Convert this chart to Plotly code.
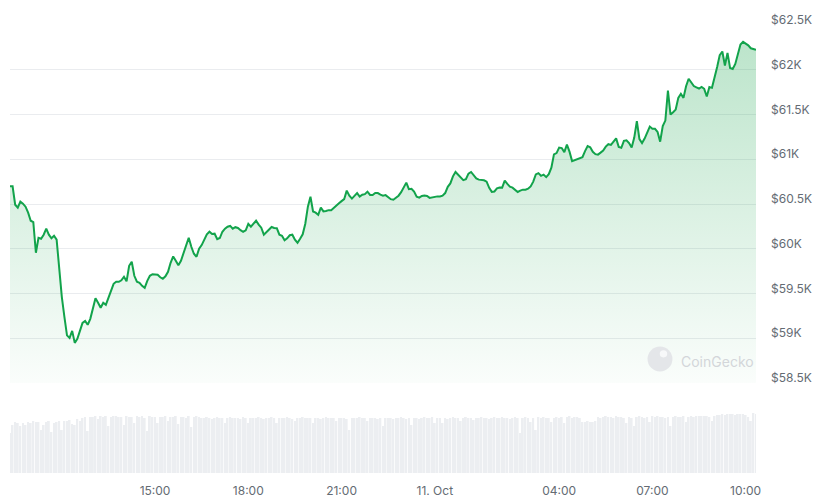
import pandas as pd
import plotly.graph_objects as go

# ---- data ----
start_time = "2024-10-10 10:20"
step = "5min"

prices = [
    60697, 60697, 60492, 60459, 60526, 60504, 60470, 60403, 60313, 60297,
    59955, 60123, 60112, 60157, 60224, 60157, 60117, 60145, 60101, 59765,
    59463, 59239, 59032, 59004, 59082, 58948, 58993, 59082, 59172, 59194,
    59150, 59217, 59351, 59446, 59396, 59340, 59396, 59373, 59452, 59530,
    59608, 59631, 59631, 59648, 59687, 59636, 59810, 59855, 59698, 59631,
    59620, 59586, 59564, 59642, 59698, 59715, 59715, 59709, 59681, 59664,
    59692, 59743, 59843, 59914, 59866, 59815, 59866, 59950, 60056, 60123,
    60022, 59944, 59910, 60000, 60041, 60101, 60162, 60190, 60164, 60168,
    60106, 60120, 60190, 60224, 60246, 60255, 60224, 60241, 60232, 60207,
    60190, 60205, 60278, 60246, 60285, 60313, 60269, 60235, 60157, 60182,
    60213, 60243, 60232, 60229, 60157, 60145, 60095, 60117, 60151, 60157,
    60101, 60067, 60112, 60162, 60280, 60470, 60582, 60416, 60403, 60380,
    60459, 60417, 60422, 60431, 60431, 60453, 60477, 60507, 60532, 60554,
    60649, 60593, 60560, 60595, 60621, 60582, 60604, 60610, 60638, 60601,
    60601, 60623, 60622, 60604, 60593, 60599, 60574, 60554, 60548, 60575,
    60593, 60632, 60694, 60739, 60666, 60669, 60638, 60582, 60571, 60590,
    60596, 60589, 60568, 60576, 60585, 60585, 60585, 60593, 60622, 60692,
    60730, 60809, 60858, 60825, 60794, 60767, 60778, 60839, 60858, 60820,
    60786, 60772, 60772, 60765, 60750, 60680, 60636, 60640, 60675, 60685,
    60683, 60761, 60724, 60694, 60683, 60660, 60634, 60649, 60660, 60660,
    60671, 60697, 60750, 60830, 60845, 60815, 60828, 60800, 60833, 60906,
    61055, 61069, 61130, 61125, 61080, 61164, 61085, 60979, 60990, 61004,
    61010, 61024, 61091, 61147, 61134, 61083, 61057, 61052, 61074, 61097,
    61141, 61168, 61160, 61197, 61233, 61138, 61128, 61206, 61212, 61181,
    61130, 61242, 61427, 61225, 61181, 61231, 61295, 61365, 61341, 61340,
    61305, 61197, 61371, 61432, 61768, 61499, 61525, 61555, 61686, 61731,
    61686, 61816, 61899, 61854, 61818, 61802, 61790, 61808, 61787, 61701,
    61807, 61798, 61907, 62031, 62164, 62204, 62048, 62188, 62019, 62009,
    62065, 62182, 62283, 62312, 62292, 62273, 62240, 62227, 62222,
]

volumes = [
    400, 480, 510, 500, 470, 500, 480, 510, 500, 520, 510, 510, 430, 480,
    510, 520, 410, 500, 510, 520, 430, 520, 520, 530, 490, 480, 540, 520,
    550, 560, 420, 560, 560, 570, 540, 570, 560, 570, 470, 560, 570, 570,
    560, 560, 480, 570, 560, 560, 500, 570, 560, 570, 550, 420, 570, 560,
    560, 500, 560, 560, 570, 520, 560, 560, 570, 490, 560, 560, 550, 570,
    460, 560, 570, 560,
    550, 550, 560, 550, 540, 550, 560, 550, 550, 500,
    550, 560, 550, 550, 550, 540, 560, 550, 500, 550,
    550, 550, 560, 550, 540, 550, 550, 560, 550, 500,
    550, 550, 550, 560, 550, 540, 520, 550, 550, 560,
    550, 550, 550, 500, 550, 550, 540, 550, 560, 550,
    550, 550, 520, 550, 550, 550, 540, 430, 550, 550,
    550, 560, 550, 550, 520, 550, 550, 550, 540, 550,
    470, 550, 550, 550, 540, 550, 550, 560,
    550, 540, 550, 480, 550, 550, 540, 550, 560, 550,
    550, 560, 500, 550, 550, 500, 550, 540, 550, 560,
    550, 550, 520, 550, 560, 550, 550, 530, 550, 550,
    560, 550, 550, 540, 550, 560, 550, 550, 560, 550,
    550, 540, 550, 560, 550, 400, 550, 560, 550, 510,
    550, 430, 560, 550, 560, 550, 550, 510, 550, 560,
    550, 560, 500, 560, 570, 550, 560, 560, 550, 510,
    510, 520, 510, 510, 520, 560, 550, 560, 570, 560,
    560, 550, 570, 560, 560, 550, 500, 560, 550, 470,
    560, 570, 560, 550, 560, 510, 570, 560, 570, 560,
    560, 550, 560, 470, 560, 570, 560, 560, 570, 510,
    560, 570, 560, 570, 570, 570, 570, 570, 560, 520,
    570, 580, 580, 590, 580, 590, 590, 590, 580, 590,
    590, 590, 580, 560, 520, 600, 590,
]

x_tick_times = ["2024-10-10 15:00", "2024-10-10 18:00", "2024-10-10 21:00",
                "2024-10-11 00:00", "2024-10-11 04:00", "2024-10-11 07:00",
                "2024-10-11 10:00"]
x_tick_labels = ["15:00", "18:00", "21:00", "11. Oct", "04:00", "07:00", "10:00"]

y_tick_values = [58500, 59000, 59500, 60000, 60500, 61000, 61500, 62000, 62500]
y_tick_labels = ["$58.5K", "$59K", "$59.5K", "$60K", "$60.5K", "$61K",
                 "$61.5K", "$62K", "$62.5K"]

# ---- figure ----
times = pd.date_range(start=start_time, periods=len(prices), freq=step)

GREEN = "#12a34b"
TEXT = "#646b73"
GRID = "#eaecef"
FONT = "Inter, Roboto, sans-serif"

fig = go.Figure()
fig.add_trace(go.Bar(
    x=times, y=volumes, marker=dict(color="#eceef1", line=dict(width=0)),
    yaxis="y2", xaxis="x", hoverinfo="skip",
))
fig.add_trace(go.Scatter(
    x=times, y=prices, mode="lines",
    line=dict(color=GREEN, width=2),
    fill="tozeroy",
    fillgradient=dict(
        type="vertical",
        colorscale=[[0, "rgba(22,163,74,0.02)"], [1, "rgba(22,163,74,0.30)"]],
        start=y_tick_values[0], stop=y_tick_values[-1],
    ),
    yaxis="y", xaxis="x",
))

fig.update_layout(
    width=817, height=501,
    margin=dict(l=10, r=61, t=25, b=28, autoexpand=False),
    paper_bgcolor="white", plot_bgcolor="white",
    showlegend=False,
    bargap=0.3,
    font=dict(family=FONT, size=12, color=TEXT),
    xaxis=dict(
        type="date", anchor="y2", automargin=False,
        range=[times[0], times[-1]],
        tickvals=x_tick_times, ticktext=x_tick_labels,
        showgrid=False, showline=False, zeroline=False, ticks="",
        tickfont=dict(size=12, color=TEXT),
        ticklabelstandoff=9,
    ),
    yaxis=dict(
        domain=[0.2009, 1.0], automargin=False,
        range=[y_tick_values[0], y_tick_values[-1]],
        side="right", anchor="x",
        tickvals=y_tick_values, ticktext=y_tick_labels,
        showgrid=True, gridcolor=GRID, gridwidth=1,
        showline=False, zeroline=False, ticks="",
        tickfont=dict(size=12, color=TEXT),
        ticklabelstandoff=14, ticklabelshift=-5,
    ),
    yaxis2=dict(
        domain=[0, 0.15625], range=[0, 700], anchor="x", automargin=False,
        showgrid=False, showticklabels=False, zeroline=False, showline=False,
    ),
)

# CoinGecko watermark
fig.add_shape(type="circle", xref="paper", yref="paper",
              x0=0.8546, x1=0.888, y0=0.2266, y1=0.2824,
              fillcolor="#e4e6e9", line=dict(width=0), layer="above")
fig.add_shape(type="circle", xref="paper", yref="paper",
              x0=0.871, x1=0.881, y0=0.258, y1=0.274,
              fillcolor="#f7f8f9", line=dict(width=0), layer="above")
fig.add_annotation(text="CoinGecko", xref="paper", yref="paper",
                   x=0.8968, y=0.25, xanchor="left", yanchor="middle",
                   showarrow=False,
                   font=dict(family=FONT, size=14, color="#d3d6da"))

fig.write_html("out.html")
